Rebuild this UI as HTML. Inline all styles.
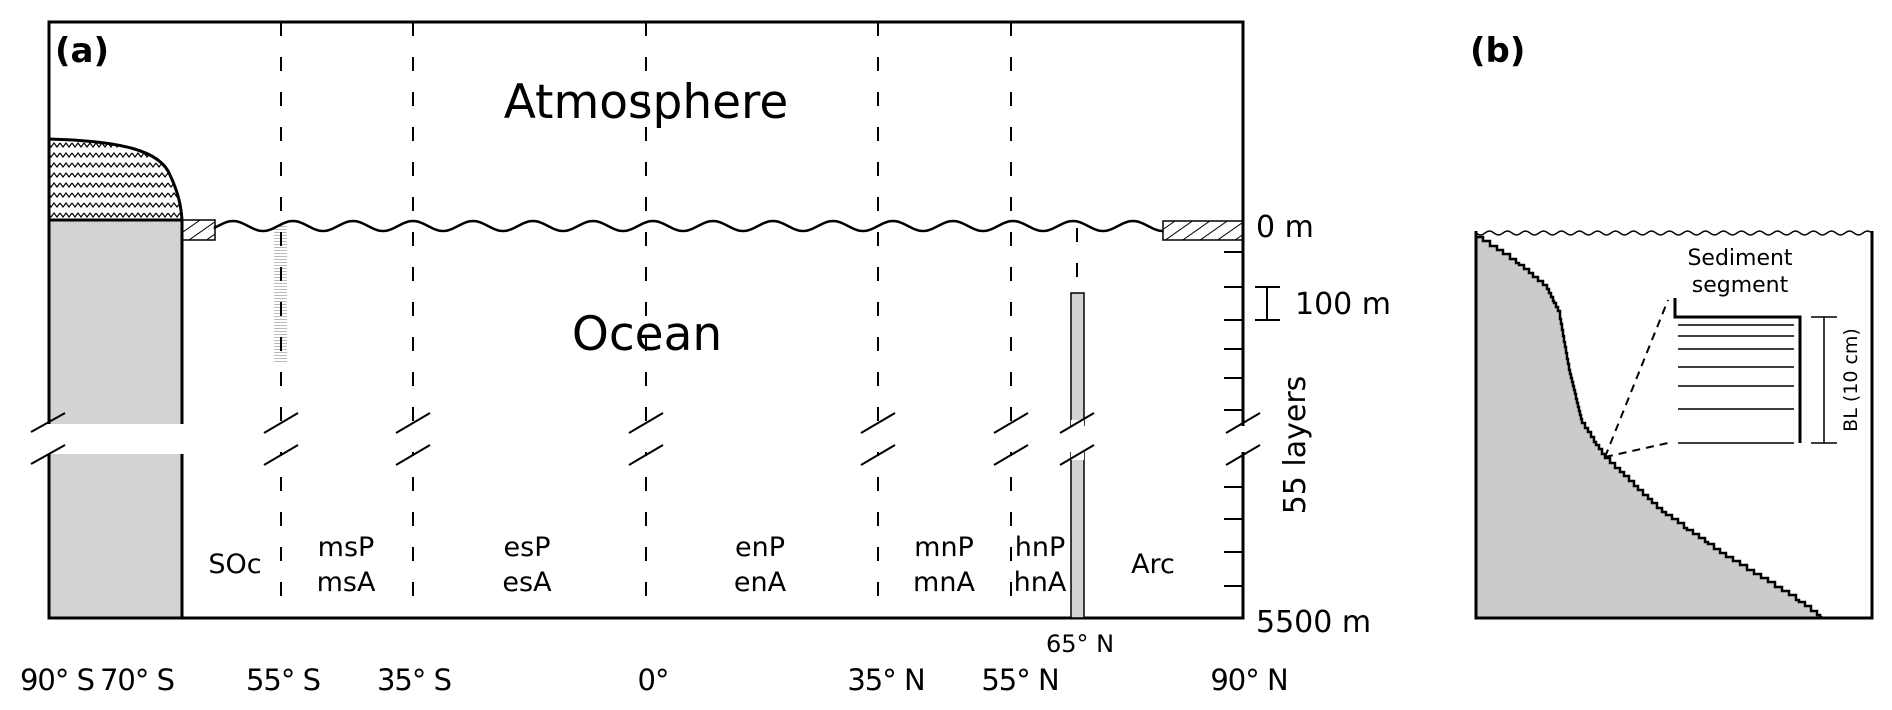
<!DOCTYPE html>
<html><head><meta charset="utf-8"><style>
html,body{margin:0;padding:0;background:#fff;}
svg{display:block;}
text{font-family:"DejaVu Sans","Liberation Sans",sans-serif;fill:#000;}
</style></head><body>
<svg id="s" width="1892" height="710" viewBox="0 0 1892 710" xmlns="http://www.w3.org/2000/svg">
<defs>
<pattern id="zig" width="12" height="10" patternUnits="userSpaceOnUse">
<path d="M0 3 L3 7 L6 3 L9 7 L12 3" fill="none" stroke="#000" stroke-width="1.2"/>
</pattern>
<pattern id="hat" width="10" height="10" patternUnits="userSpaceOnUse" patternTransform="rotate(-35)">
<line x1="0" y1="5" x2="10" y2="5" stroke="#000" stroke-width="1"/>
</pattern>
<pattern id="dots" width="13" height="3" patternUnits="userSpaceOnUse">
<line x1="0" y1="1.5" x2="13" y2="1.5" stroke="#bbb" stroke-width="1"/>
</pattern>
</defs>

<rect x="49" y="22" width="1194" height="596" fill="#fff" stroke="#000" stroke-width="3"/>
<path d="M49 139 C120 141 160 150 170 175 C178 192 181 205 182 220 L49 220 Z" fill="url(#zig)" stroke="#000" stroke-width="3"/>
<rect x="49" y="220" width="133" height="398" fill="#d3d3d3" stroke="#000" stroke-width="3"/>
<rect x="0" y="424" width="184" height="30" fill="#fff"/>
<line x1="31" y1="432" x2="65" y2="413" stroke="#000" stroke-width="2"/>
<line x1="31" y1="464" x2="65" y2="445" stroke="#000" stroke-width="2"/>
<rect x="182" y="220" width="33" height="20" fill="url(#hat)" stroke="#000" stroke-width="1.5"/>
<rect x="1163" y="221" width="80" height="19" fill="url(#hat)" stroke="#000" stroke-width="1.5"/>
<rect x="274" y="224" width="13" height="140" fill="url(#dots)"/>
<g stroke="#000" stroke-width="2" stroke-dasharray="14 21">
<line x1="281" y1="22" x2="281" y2="618"/>
<line x1="413" y1="22" x2="413" y2="618"/>
<line x1="646" y1="22" x2="646" y2="618"/>
<line x1="878" y1="22" x2="878" y2="618"/>
<line x1="1011" y1="22" x2="1011" y2="618"/>
<line x1="1077" y1="228" x2="1077" y2="293"/>
</g>
<rect x="1071" y="293" width="13" height="325" fill="#d3d3d3" stroke="#000" stroke-width="1.5"/>
<path id="wave" fill="none" stroke="#000" stroke-width="2.5"/>
<g id="breaks"></g>
<g stroke="#000" stroke-width="2">
<line x1="1224" y1="252" x2="1243" y2="252"/>
<line x1="1224" y1="287" x2="1243" y2="287"/>
<line x1="1224" y1="320" x2="1243" y2="320"/>
<line x1="1224" y1="349" x2="1243" y2="349"/>
<line x1="1224" y1="378" x2="1243" y2="378"/>
<line x1="1224" y1="410" x2="1243" y2="410"/>
<line x1="1224" y1="487" x2="1243" y2="487"/>
<line x1="1224" y1="519" x2="1243" y2="519"/>
<line x1="1224" y1="552" x2="1243" y2="552"/>
<line x1="1224" y1="586" x2="1243" y2="586"/>
<line x1="1255" y1="287" x2="1280" y2="287"/>
<line x1="1255" y1="320" x2="1280" y2="320"/>
<line x1="1267" y1="287" x2="1267" y2="320"/>
</g>
<text x="1256" y="237" font-size="30">0 m</text>
<text x="1295" y="314" font-size="30">100 m</text>
<text x="1256" y="632" font-size="30">5500 m</text>
<text transform="translate(1305,445) rotate(-90)" text-anchor="middle" font-size="30">55 layers</text>

<text x="646" y="118" text-anchor="middle" font-size="47">Atmosphere</text>
<text x="647" y="350" text-anchor="middle" font-size="47">Ocean</text>
<text x="55" y="62" font-size="34" font-weight="bold">(a)</text>
<text x="1470" y="62" font-size="34" font-weight="bold">(b)</text>

<g font-size="27" text-anchor="middle">
<text x="235" y="573">SOc</text>
<text x="346" y="556">msP</text><text x="346" y="591">msA</text>
<text x="527" y="556">esP</text><text x="527" y="591">esA</text>
<text x="760" y="556">enP</text><text x="760" y="591">enA</text>
<text x="944" y="556">mnP</text><text x="944" y="591">mnA</text>
<text x="1040" y="556">hnP</text><text x="1040" y="591">hnA</text>
<text x="1153" y="573">Arc</text>
<text x="1080" y="652" font-size="24">65° N</text>
</g>
<g font-size="29" text-anchor="middle" letter-spacing="-1">
<text x="57" y="690">90° S</text>
<text x="137" y="690">70° S</text>
<text x="283" y="690">55° S</text>
<text x="414" y="690">35° S</text>
<text x="653" y="690">0°</text>
<text x="886" y="690">35° N</text>
<text x="1020" y="690">55° N</text>
<text x="1249" y="690">90° N</text>
</g>

<path id="wave2" fill="none" stroke="#000" stroke-width="1.5"/>
<path id="stairs" fill="#cbcbcb" stroke="#000" stroke-width="2.5"/>
<path d="M1476 231 L1476 618 L1872 618 L1872 231" fill="none" stroke="#000" stroke-width="3"/>
<line x1="1605" y1="457" x2="1668" y2="300" stroke="#000" stroke-width="2" stroke-dasharray="8 6"/>
<line x1="1605" y1="457" x2="1668" y2="443" stroke="#000" stroke-width="2" stroke-dasharray="8 6"/>
<path d="M1675 298 L1675 317 L1800 317 L1800 443" fill="none" stroke="#000" stroke-width="3"/>
<g stroke="#000" stroke-width="1.5">
<line x1="1678" y1="325" x2="1794" y2="325"/>
<line x1="1678" y1="336" x2="1794" y2="336"/>
<line x1="1678" y1="349" x2="1794" y2="349"/>
<line x1="1678" y1="367" x2="1794" y2="367"/>
<line x1="1678" y1="386" x2="1794" y2="386"/>
<line x1="1678" y1="409" x2="1794" y2="409"/>
<line x1="1678" y1="443" x2="1794" y2="443"/>
<line x1="1811" y1="317" x2="1837" y2="317"/>
<line x1="1811" y1="443" x2="1837" y2="443"/>
<line x1="1824" y1="317" x2="1824" y2="443"/>
</g>
<text x="1740" y="265" text-anchor="middle" font-size="22">Sediment</text>
<text x="1740" y="292" text-anchor="middle" font-size="22">segment</text>
<text transform="translate(1857,380) rotate(-90)" text-anchor="middle" font-size="19">BL (10 cm)</text>
</svg>
<script>
(function(){
var d="M215 226";
for(var x=215;x<=1163;x+=2){d+=" L"+x+" "+(226-5*Math.cos((x-413)/60*2*Math.PI)).toFixed(1);}
document.getElementById('wave').setAttribute('d',d);
var d2="M1476 232";
for(var x=1476;x<=1872;x+=1.5){d2+=" L"+x+" "+(233+2*Math.sin(x/18*2*Math.PI)).toFixed(1);}
document.getElementById('wave2').setAttribute('d',d2);
var br=document.getElementById('breaks'),xs=[281,413,646,878,1011,1077,1243],h="";
xs.forEach(function(x){
 h+='<rect x="'+(x-20)+'" y="426" width="40" height="26" fill="#fff"/>';
 if(x==1077){h+='<rect x="1071" y="420" width="13" height="40" fill="#fff"/>';}
 h+='<line x1="'+(x-17)+'" y1="433" x2="'+(x+17)+'" y2="413" stroke="#000" stroke-width="2"/>';
 h+='<line x1="'+(x-17)+'" y1="465" x2="'+(x+17)+'" y2="445" stroke="#000" stroke-width="2"/>';
});
br.innerHTML=h;
var pts=[[1477,237],[1493,247],[1517,263],[1547,287],[1560,313],[1570,370],[1583,423],[1605,457],[1660,510],[1727,557],[1793,597],[1822,618]];
function yAt(x){for(var i=0;i<pts.length-1;i++){if(x<=pts[i+1][0]){var a=pts[i],b=pts[i+1];return a[1]+(b[1]-a[1])*(x-a[0])/(b[0]-a[0]);}}return 618;}
var s="M1476 618 L1476 237 L1480 237",px=1480,py=237;
while(px<1822){
 var nx=px+1, ny=yAt(nx);
 if(ny-py>=4||(px%7==0&&ny-py>=2)||nx>=1822){py=Math.min(ny,618);s+=" L"+px+" "+py.toFixed(0);}
 s+=" L"+nx+" "+py.toFixed(0);px=nx;
}
s+=" L"+px+" 618 Z";
document.getElementById('stairs').setAttribute('d',s);
})();
</script>
</body></html>
